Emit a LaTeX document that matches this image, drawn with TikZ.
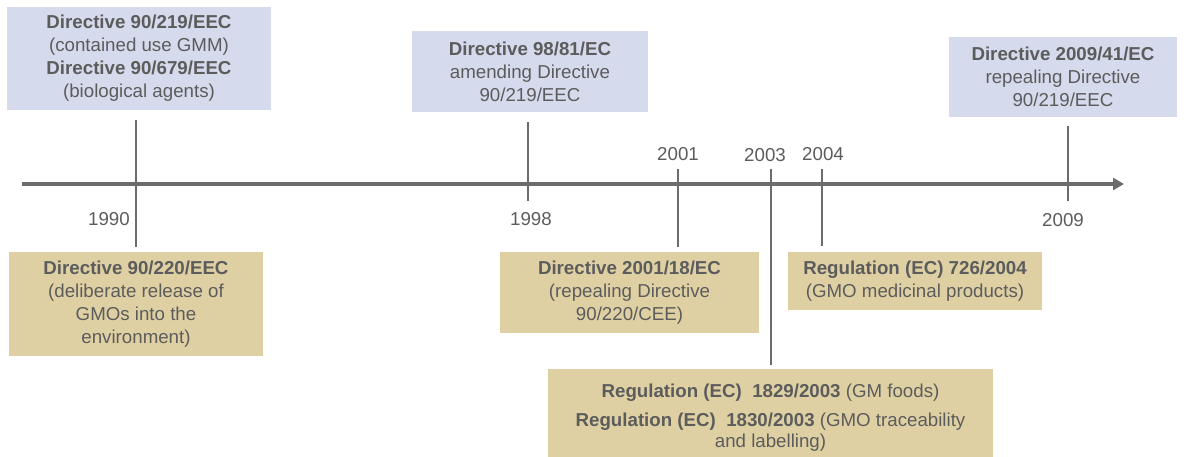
\documentclass[tikz,border=0pt]{standalone}
\usepackage{fontspec}
\setmainfont{Liberation Sans}
\usetikzlibrary{arrows.meta}

\definecolor{boxblue}{RGB}{213,218,236}
\definecolor{boxtan}{RGB}{223,208,164}
\definecolor{inkgray}{RGB}{92,92,92}
\definecolor{linegray}{RGB}{108,108,108}

\begin{document}
\begin{tikzpicture}[x=1pt,y=-1pt,
  every node/.style={font=\fontsize{18.7}{23}\selectfont, text=inkgray},
  law/.style={rectangle, inner sep=0pt, align=center},
  bluebox/.style={law, fill=boxblue},
  tanbox/.style={law, fill=boxtan},
  axisline/.style={line width=4.5pt, draw=linegray, -{Triangle[length=11pt,width=12pt]}},
  tickline/.style={line width=2.6pt, draw=linegray},
  year/.style={inner sep=0pt, anchor=center}
]
\useasboundingbox (0,0) rectangle (1184,457);

% legislation boxes above the time axis
\node[bluebox, minimum width=264pt, minimum height=103pt] (b1) at (139,58.5)
  {\textbf{Directive 90/219/EEC}\\(contained use GMM)\\\textbf{Directive 90/679/EEC}\\(biological agents)};
\node[bluebox, minimum width=236pt, minimum height=81pt] (b2) at (530,71.5)
  {\textbf{Directive 98/81/EC}\\amending Directive\\90/219/EEC};
\node[bluebox, minimum width=228pt, minimum height=80pt] (b3) at (1063,77)
  {\textbf{Directive 2009/41/EC}\\repealing Directive\\90/219/EEC};

% legislation boxes below the time axis
\node[tanbox, minimum width=254pt, minimum height=104pt] (o1) at (136,304)
  {\textbf{Directive 90/220/EEC}\\(deliberate release of\\GMOs into the\\environment)};
\node[tanbox, minimum width=259pt, minimum height=81pt] (o2) at (629.5,292.5)
  {\textbf{Directive 2001/18/EC}\\(repealing Directive\\90/220/CEE)};
\node[tanbox, minimum width=254pt, minimum height=58pt] (o3) at (915,281)
  {\textbf{Regulation (EC) 726/2004}\\(GMO medicinal products)};
\node[tanbox, minimum width=445pt, minimum height=98pt,
      font=\fontsize{18.7}{21}\selectfont] (o4) at (770.5,418)
  {\textbf{Regulation (EC)~~1829/2003} (GM foods)\\[8pt]
   \textbf{Regulation (EC)~~1830/2003} (GMO traceability\\and labelling)};

% time axis
\coordinate (axstart) at (22,184);
\coordinate (axend) at (1124,184);
\draw[axisline] (axstart) -- (axend);

\coordinate (a1990) at (136,184);
\coordinate (a1998) at (528,184);
\coordinate (a2001) at (678,184);
\coordinate (a2003) at (771,184);
\coordinate (a2004) at (822,184);
\coordinate (a2009) at (1068,184);

% year ticks
\draw[tickline, shorten <=10pt, shorten >=5pt] (a1990 |- b1.south) -- (a1990 |- o1.north);
\draw[tickline, shorten <=10pt] (a1998 |- b2.south) -- ([yshift=-17pt]a1998);
\draw[tickline, shorten >=5pt] ([yshift=15pt]a2001) -- (a2001 |- o2.north);
\draw[tickline, shorten >=4pt] ([yshift=15pt]a2003) -- (a2003 |- o4.north);
\draw[tickline, shorten >=6pt] ([yshift=15pt]a2004) -- (a2004 |- o3.north);
\draw[tickline, shorten <=9pt] (a2009 |- b3.south) -- ([yshift=-17pt]a2009);

% year labels
\node[year] (y1990) at (109,219) {1990};
\node[year] (y1998) at (531,219) {1998};
\node[year] (y2001) at (678,154) {2001};
\node[year] (y2003) at (765,155) {2003};
\node[year] (y2004) at (823,154) {2004};
\node[year] (y2009) at (1063,220) {2009};
\end{tikzpicture}
\end{document}
